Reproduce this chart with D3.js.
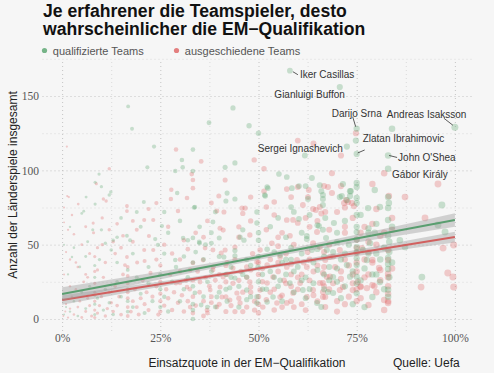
<!DOCTYPE html>
<html>
<head>
<meta charset="utf-8">
<script src="https://cdn.jsdelivr.net/npm/d3@7"></script>
<style>
  body { margin:0; background:#f6f6f6; }
  svg { display:block; font-family:"Liberation Sans", Arial, sans-serif; }
  .grid line { stroke-dasharray:1,3; }
  .grid .domain { display:none; }
  .tick text { font-family:"Liberation Serif", serif; font-size:11.5px; fill:#555; }
</style>
</head>
<body>
<div class="chart"></div>
<script>
// Einsatzquote (%) / Länderspiele
const qualifiziert = [
  [58,167],[70.7,156],[75,128],[100,129],[75,111],[72.5,116],[83,110],[83,101],
  [16.8,143],[17.8,128],[23.4,116],[33.3,114],[30.5,107],[30.7,102],[37.4,132],[43.5,142],[47.6,130],[21.7,102],[28.8,99.5],[33.3,99.5],[9.4,97.5],[8.4,92],[10,89],[41.5,102],[44,105],[29.3,84.7],[33.8,75.3],[42,84.7],[41.7,79.4],[44,80.7],[12.4,85.4],[12,83.4],[6.1,82],[8.4,77.3],[20.8,78.7],
  [50,125],[61.8,110],[84,128],[74.8,120],[55.2,97.5],[57.2,95.5],[63.6,94.8],[52.4,88],[51.7,82.7],[58.5,88],[62,89.4],[65.6,90],[66,86],[66.4,83.4],[66.4,80.7],[71.5,90.8],[71.2,82.7],[73.3,86],[73.3,82.7],[79.6,86.8],[83.2,78],[96.7,76.7],[58.3,75.3],[62.6,80.7],[77.9,74.6],[80.9,75.3],
  [5,71],[5.5,72.5],[7.8,60],[25.4,62.5],[14,55],[16.5,56],[17.3,53],[13,53],[11,51],[23.7,53.8],[24.4,49.8],[12.5,46.4],[28.8,39.7],[2.5,41.7],[6,42],[33.6,75],[49.6,72],[49.6,64.6],[52.2,88.8],[51.6,83.4],[60.3,67.3],[66.4,60],[65,63],[66.4,76.7],[38.4,65.2],[40,54.5],[45.3,55],[46.3,53],[50,53],[30.8,54.5],[32,53],[33.3,54.5],[35,51],[36.5,50],[38,51],[62.3,55.8],[62.3,53.8],[69.2,64.6],[75,91.5],[75,88.8],[75,81.4],[75,78],[83,82],[83,74.6],[83,66.6],[95.7,63.2],[97.5,58.5],[86,53],[87.3,48.4],[83,41],[83,37],[83,33.6],[91.6,28.2],[79,14.8],[83,19.7],[83,15],
  [73.5,86],[72.5,80],[70.7,82],[78,61],[79.6,58],[75,70],[75,58.5],[75,53.4],[75,48.4],[75,40.8],[75,36.3],[75,28.5],[75,17.3],[72.5,36.3],[73.3,28.5],[69,28.2],[67.7,18.2],[69,17.5],[80.9,24.9],[77.6,39.7],[76.6,46.4],[78.4,51],[70,51.8],[67.4,46.4],
  [52.2,47],[55.5,43],[41.2,41.7],[44,42.4],[34.9,51.8],[63.6,46.4],[67.2,54.5],[60.3,89.4],[65.4,62.5],[55.5,26],[49.9,35],[47,19.5],[42.7,21],[33.8,17.5],[33.3,6],[33.3,0],[35.4,9.4],[39.4,14.8],[52.2,11.4],[58,24.2],[61.3,19.5],[64.9,10.8],[53.7,14.8],[47,28.2],[44,27.6],[49.6,10.8],[49.6,15],
  [0.5,3],[1,8],[2,5],[3,12],[4,2],[5,18],[6,7],[7,22],[8.3,3],[8.3,10],[8.3,16],[8.3,28],[8.3,36],[9,14],[10.5,6],[11,20],[12,11],[13,3],[14,25],[15,15],[16.7,5],[16.7,12],[16.7,20],[16.7,33],[18,8],[19,28],[20,17],[21,4],[22,24],[23,12],[25,8],[25,20],[25,30],[26,15],[27,5],[28,25],[29,35],[30,12],[31,20],[32,28],[33.3,10],[33.3,22],[33.3,38],[34,45],[36,15],[37,25],[38,32],[39,8],[40,42],[41.7,20],[41.7,30],[42,12],[43,35],[44,46],[45,22],[46,30],[47,40],[48,15],[50,25],[50,42],[51,20],[53,32],[54,45],[55,22],[56,38],[57,30],[58.3,40],[58.3,48],[59,18],[60,35],[61,44],[62,28],[63,20],[64,38],[65,47],[66.7,30],[66.7,42],[66.7,20],[68,35],[69,45],[70,25],[71,40],[72,22],[73,50],[74,32],[75,24],[75,45],[77,34],[78,44],[80,30],[81,40],[82,48],[83.3,28],[83.3,45],[83.3,52],
  [46,60],[50,58],[53,62],[55,68],[57,55],[59,72],[61,58],[63,70],[67,68],[70,58],[72,66],[75,62],[76,70],[78,58],[80,64],[83,56],[84,62],
  [1.5,30],[3,48],[4.5,35],[6.5,52],[9.5,40],[2,62],[0.5,50],
  [14,38],[18,44],[20,62],[22,35],[26,44],[27,58],[30,66],[31,42],[35,62],[36,40],[38,58],[39,72],[15,68],[19,72],[26,72],[10,60],
  [37,8],[40,18],[43,28],[45,8],[47,13],[48,36],[51,30],[52,20],[54,28],[56,12],[57,40],[59,32],[61,26],[62,14],[64,24],[65,33],[66,8],[68,26],[70,34],[71,14],[72,44],[74,10],[76,26],[77,8],[79,30],[80,44],[82,20],[84,38]
];
const ausgeschieden = [
  [1.2,116],[29,114],[35.4,106],[33,97.5],[33.3,93.5],[12,101],[8.7,91],[41.5,93.5],[27.8,87],[27.7,80.7],[31.8,81.4],[39.9,82.7],[46.6,74.6],[10.5,80.7],[11.2,79.4],[1.3,82.7],[1.7,82],[4.1,77.3],[16.5,76],
  [48.9,107],[60,120],[64,118],[71,110],[74.8,125],[51.4,101],[68.7,98],[82,98],[95.7,90.8],[51.4,86],[58.3,82],[60,88.8],[62.8,86.8],[67.7,88.8],[62.6,82],[71,89.4],[72.3,80],[79,90.8],[83.2,82.7],[87.3,82],[52,75.3],[61.3,76.7],[63.9,74],[72,75],[74.3,76],
  [33.3,88],[39.4,72.6],[41.2,72],[45.8,74.6],[46,71],[54,78.7],[57.2,87.4],[58.8,66.6],[57.2,66.6],[62,68],[60,64.6],[64.9,58.5],[64.6,73.3],[66,71],
  [40.2,61],[41,59.8],[47.8,56.5],[50.4,46.4],[53.4,51],[55,49],[44,48.4],[29.5,72.6],[16.5,72.6],[10.2,68],[7.9,64.5],[20.9,66.6],[23.2,66.6],[0.5,65],[1.5,60],[3,57],[8,58],[15.5,56],[22.1,55.8],[23.2,46.4],[20.9,46.4],[10.2,50],[9,48],[13,52],[16.5,41.7],[16,36.3],[19.1,38],[21,39],[31,53],[32,47],[2,40],[4,35],[6,30],
  [92.4,68],[97,47.7],[99.7,49.8],[98.2,31],[99.5,28.2],[99.7,21.5],[91.4,21.5],[83,46.4],[83,39.7],[83,30.5],[83,28],[83,22],[83,17],[83,12],[83,10.8],[82,12.8],[78,9.4],[79.5,22],[76,22],[79,38],[78,45],
  [72.8,78.7],[73.8,78],[71.8,78],[68.7,84.7],[66.7,89.4],[65.6,75.3],[67,72],[72,62],[75,53.4],[75,47.7],[75,44.4],[76,21.5],[77.6,20.8],[71.5,21.5],[74,19.5],[75.3,24.9],[80.7,34.3],[79,22.8],[79,39.7],[80,74],[76.3,47.7],[70.7,46.4],[68.2,41.7],[67,39.7],[69.5,35],[66.4,31],[68.2,28.5],[66.4,24.2],[70.7,19.5],[66.4,18.2],[67,14.8],
  [36.4,47.7],[38.4,46.4],[40.5,44.4],[41.5,46.4],[55.5,41.7],[63.9,51],[65.6,48.4],[30,24.2],[31.8,21.5],[35.1,24.9],[37.7,19.5],[40.2,21.5],[40.7,14.8],[42.7,12.8],[44.5,17.5],[45.3,10.8],[47.8,24.9],[48,21.5],[50.4,19.5],[52.2,24.2],[53.7,28.2],[55.5,14.8],[57.2,10.8],[58.8,17.5],[60.6,24.2],[62.3,14.8],[63.9,19.5],[65.6,24.2],[66.4,14.8],[67.4,28.2],[32.6,8],[36.9,6],[39.4,8],[47,8],[51.1,8],[54.7,10.8],[41,28.2],[43.5,34.3],[47,35],[49.6,38.3],[52.2,36.3],[57.2,35],[59.8,39.7],[62.3,35],[33.3,37.7],[32.6,33],[35.9,39.7],[38.4,33],
  [0.3,2],[0.8,5],[1,10],[1.5,1],[2,7],[2.5,15],[3,3],[3.5,20],[4,8],[4.5,12],[5,1],[5.5,25],[6,5],[6.5,14],[7,9],[7.5,2],[8.3,1],[8.3,6],[8.3,12],[8.3,18],[8.3,24],[8.3,32],[8.3,42],[9,4],[9.5,9],[10,15],[10.5,28],[11,2],[11.5,7],[12,18],[12.5,11],[13,5],[13.5,22],[14,9],[14.5,15],[15,3],[15.5,30],[16.7,2],[16.7,8],[16.7,14],[16.7,18],[16.7,24],[16.7,29],[16.7,35],[17.5,5],[18,12],[18.5,20],[19,8],[19.5,3],[20,14],[20.5,26],[21,10],[21.5,18],[22,6],[22.5,31],[23,15],[24,22],[24.5,3],[25,5],[25,12],[25,17],[25,25],[25,36],[26,9],[26.5,20],[27,14],[27.5,30],[28,6],[28.5,18],[29,24],[29.5,11],[30,32],[30.5,16],[31,5],[31.5,26],[32,12],[32.5,20],[33.3,4],[33.3,15],[33.3,26],[34,9],[34.5,32],[35,18],[36,12],[36.5,28],[37,4],[37.5,22],[38,15],[38.5,35],[39,26],[40,10],[41.7,5],[41.7,15],[41.7,25],[41.7,36],[42,30],[43,9],[43.5,24],[44,40],[45,14],[45.5,32],[46,5],[47,28],[48,18],[48.5,44],[49,12],[50,4],[50,15],[50,30],[50,38],[51,25],[52,13],[53,40],[54,20],[55,32],[56,8],[56.5,26],[57,44],[58.3,12],[58.3,22],[58.3,30],[58.3,37],[59,50],[60,28],[61,10],[61.5,38],[62.5,45],[63,26],[64,32],[65,12],[66.7,22],[66.7,35],[66.7,45],[68,50],[69,24],[70,12],[71,32],[72,40],[73,15],[74,30],[75,12],[75,20],[75,32],[75,38],[76,58],[77,28],[78,52],[80,50],[81,33],[82,58],
  [45,62],[48,66],[52,60],[54,70],[56,58],[58,56],[63,62],[65,66],[68,60],[70,72],[72,58],[74,68],[77,62],[79,64],[81,56],[84,60],[84,68],
  [0.5,30],[1,45],[2,22],[3.5,38],[5,50],[6.5,28],[7,44],[9,33],[11,38],[12,60],[13.5,44],[15,48],[18,52],[19,60],[24,40],[26,50],[28,44],[30,40],[27,62],[34,58],[37,66],[36,55],[0.5,75],[2.5,70],[6,62],[14,64],[18,66],[22,74],[24,78],[38,78],[48,82],
  [36,2],[38,11],[40,30],[42,38],[44,5],[45,26],[46,18],[48,33],[49,6],[50,10],[51,34],[53,18],[54,6],[55,38],[56,16],[57,24],[59,8],[60,20],[61,30],[62,6],[63,40],[64,16],[65,36],[67,8],[68,20],[69,42],[70,5],[71,27],[72,10],[73,36],[74,24],[76,14],[77,40],[78,30],[80,18],[81,26],[82,6],[84,34],[45,55],[55,55]
];

// Regressionsgeraden mit Konfidenzband
const fitX = [0, 20, 40, 60, 80, 100];
const fitQualifiziert = [16.8, 26.8, 36.7, 46.7, 56.6, 66.6];
const ciQualifiziert = [4.6, 3.0, 1.9, 1.9, 3.0, 4.6];
const fitAusgeschieden = [12.8, 21.3, 29.7, 38.2, 46.6, 55.1];
const ciAusgeschieden = [3.2, 2.0, 1.3, 1.4, 2.3, 3.6];

const xTicks = [0, 25, 50, 75, 100];
const xMinor = [12.5, 37.5, 62.5, 87.5];
const yTicks = [0, 50, 100, 150];
const yMinor = [25, 75, 125, 175];

const spieler = [
  {name:'Iker Casillas', x:58, y:167},
  {name:'Gianluigi Buffon', x:70.7, y:156},
  {name:'Darijo Srna', x:75, y:128},
  {name:'Andreas Isaksson', x:100, y:129},
  {name:'Zlatan Ibrahimovic', x:75, y:111},
  {name:'Sergei Ignashevich', x:72.5, y:116},
  {name:"John O'Shea", x:83, y:110},
  {name:'Gábor Király', x:83, y:101}
];
// label placement (px relative to point): text offset, anchor, leader line
const labelLayout = {
  'Iker Casillas':      {dx:10, dy:7, anchor:'start', line:[3,1,8,4]},
  'Gianluigi Buffon':   {dx:5, dy:11, anchor:'end'},
  'Darijo Srna':        {dx:-25, dy:-12, anchor:'start', line:[-4,-12,-1,-2]},
  'Andreas Isaksson':   {dx:-68, dy:-9, anchor:'start', line:[-11,-9,-2,-2]},
  'Zlatan Ibrahimovic': {dx:6, dy:-12, anchor:'start', line:[1,-1,8,-4]},
  'Sergei Ignashevich': {dx:-4, dy:5, anchor:'end'},
  "John O'Shea":        {dx:10, dy:6, anchor:'start', line:[1,0,9,2]},
  'Gábor Király':       {dx:4, dy:9, anchor:'start'}
};

const width = 494, height = 373;
const panel = {left:42.5, right:474.5, top:59, bottom:331};

const svg = d3.select('.chart').append('svg')
  .attr('width', width).attr('height', height);
svg.append('rect').attr('width', width).attr('height', height).attr('fill', '#f6f6f6');

const x = d3.scaleLinear().domain([-5, 105]).range([panel.left, panel.right]);
const y = d3.scaleLinear().domain([0, 150]).range([319, 96]);
const r = d3.scaleSqrt().domain([0, 100]).range([0.8, 3.5]);

// grid + axes
svg.append('g').attr('class', 'grid')
  .attr('transform', `translate(${panel.left},0)`)
  .call(d3.axisLeft(y).tickValues(yMinor).tickFormat('').tickSize(-(panel.right - panel.left)))
  .selectAll('line').attr('stroke', '#dadada');
svg.append('g').attr('class', 'grid')
  .attr('transform', `translate(0,${panel.bottom})`)
  .call(d3.axisBottom(x).tickValues(xMinor).tickFormat('').tickSize(-(panel.bottom - panel.top)))
  .selectAll('line').attr('stroke', '#dadada');

const yAxis = svg.append('g').attr('class', 'grid')
  .attr('transform', `translate(${panel.left},0)`)
  .call(d3.axisLeft(y).tickValues(yTicks).tickSize(-(panel.right - panel.left)).tickPadding(3.5));
yAxis.selectAll('line').attr('stroke', '#c4c4c4');

const xAxis = svg.append('g').attr('class', 'grid')
  .attr('transform', `translate(0,${panel.bottom})`)
  .call(d3.axisBottom(x).tickValues(xTicks).tickFormat(d => d + '%')
    .tickSize(-(panel.bottom - panel.top)).tickPadding(3));
xAxis.selectAll('line').attr('stroke', '#c4c4c4');

// points
const pts = svg.append('g');
pts.selectAll('.aus').data(ausgeschieden).join('circle').attr('class', 'aus')
  .attr('cx', d => x(d[0])).attr('cy', d => y(d[1])).attr('r', d => r(d[0]))
  .attr('fill', '#df6a6a').attr('fill-opacity', 0.32);
pts.selectAll('.qua').data(qualifiziert).join('circle').attr('class', 'qua')
  .attr('cx', d => x(d[0])).attr('cy', d => y(d[1])).attr('r', d => r(d[0]))
  .attr('fill', '#5fa874').attr('fill-opacity', 0.32);

// bands & lines
function drawFit(fit, ci, color){
  const rows = fitX.map((v, i) => ({x:v, f:fit[i], lo:fit[i] - ci[i], hi:fit[i] + ci[i]}));
  svg.append('path').datum(rows)
    .attr('d', d3.area().x(d => x(d.x)).y0(d => y(d.lo)).y1(d => y(d.hi)).curve(d3.curveNatural))
    .attr('fill', '#999').attr('fill-opacity', 0.4);
  svg.append('path').datum(rows)
    .attr('d', d3.line().x(d => x(d.x)).y(d => y(d.f)))
    .attr('fill', 'none').attr('stroke', color).attr('stroke-width', 2);
}
drawFit(fitAusgeschieden, ciAusgeschieden, '#d1605f');
drawFit(fitQualifiziert, ciQualifiziert, '#5a9e70');

// labels
const lab = svg.append('g');
spieler.forEach(s => {
  const L = labelLayout[s.name];
  const px = x(s.x), py = y(s.y);
  if (L.line) {
    lab.append('line')
      .attr('x1', px + L.line[0]).attr('y1', py + L.line[1])
      .attr('x2', px + L.line[2]).attr('y2', py + L.line[3])
      .attr('stroke', '#333').attr('stroke-width', 0.8);
  }
  lab.append('text').attr('x', px + L.dx).attr('y', py + L.dy)
    .attr('text-anchor', L.anchor).attr('font-size', 10).attr('fill', '#333')
    .text(s.name);
});

// title (two lines, tight leading like the original)
const titleLines = ['Je erfahrener die Teamspieler, desto', 'wahrscheinlicher die EM\u2212Qualifikation'];
svg.selectAll('.title').data(titleLines).join('text').attr('class', 'title')
  .attr('x', 43).attr('y', (d, i) => 16.6 + i * 18.2)
  .attr('font-weight', 'bold').attr('font-size', 17.6).attr('fill', '#111')
  .text(d => d);

// legend
const legend = [{label:'qualifizierte Teams', color:'#5fa874', x:44.5}, {label:'ausgeschiedene Teams', color:'#df6a6a', x:176.5}];
legend.forEach(l => {
  svg.append('circle').attr('cx', l.x).attr('cy', 50.5).attr('r', 2.6).attr('fill', l.color).attr('fill-opacity', 0.85);
  svg.append('text').attr('x', l.x + 8.3).attr('y', 54.5).attr('font-size', 11).attr('fill', '#555').text(l.label);
});

// axis titles
svg.append('text').attr('x', 247).attr('y', 367).attr('text-anchor', 'middle')
  .attr('font-size', 12).attr('fill', '#222').text('Einsatzquote in der EM\u2212Qualifikation');
svg.append('text').attr('x', 393).attr('y', 367)
  .attr('font-size', 12).attr('fill', '#222').text('Quelle: Uefa');
svg.append('text').attr('transform', 'translate(17,185) rotate(-90)').attr('text-anchor', 'middle')
  .attr('font-size', 12).attr('fill', '#222').text('Anzahl der Länderspiele insgesamt');
</script>
</body>
</html>
